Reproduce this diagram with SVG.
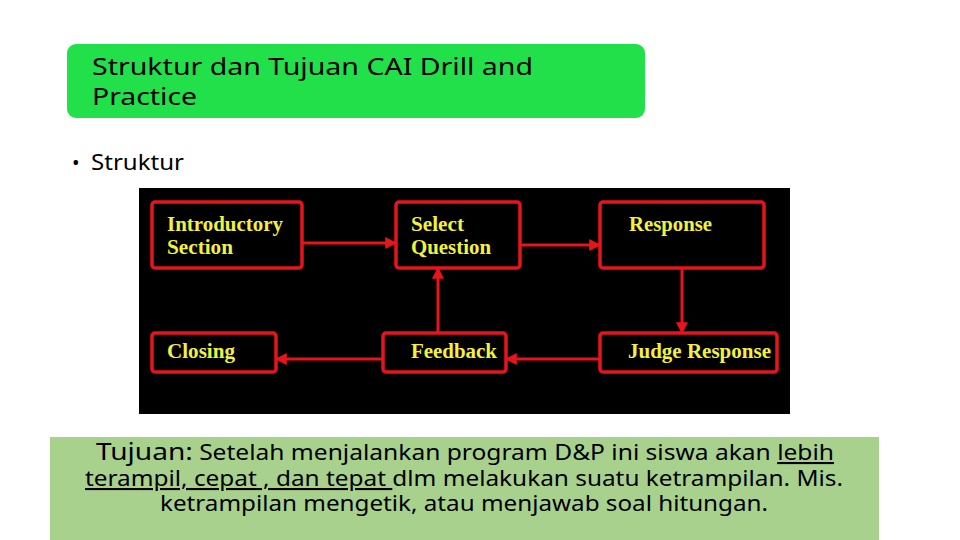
<svg xmlns="http://www.w3.org/2000/svg" width="960" height="540" viewBox="0 0 960 540">
<defs>
<marker id="ah" viewBox="0 0 10 10" refX="9" refY="5" markerWidth="4" markerHeight="4" orient="auto" markerUnits="strokeWidth">
<path d="M0,0 L10,5 L0,10 z" fill="#E8141C"/>
</marker>
<style>
.box{fill:#000;stroke:#E8141C;stroke-width:3.5}
.lbl{font-family:"Liberation Serif",serif;font-weight:bold;font-size:20px;fill:#F2F23C}
.con{stroke:#E8141C;stroke-width:3;fill:none;marker-end:url(#ah)}
.sans{font-family:"Noto Sans","Open Sans",sans-serif;fill:#000}
</style>
</defs>
<rect width="960" height="540" fill="#fff"/>
<g id="title">
<rect x="67" y="44" width="578" height="74" rx="9" fill="#22E04A"/>
<text class="sans" x="92" y="75" font-size="24" textLength="441" lengthAdjust="spacingAndGlyphs">Struktur dan Tujuan CAI Drill and</text>
<text class="sans" x="92" y="105" font-size="24" textLength="105" lengthAdjust="spacingAndGlyphs">Practice</text>
</g>
<g id="bullet">
<text class="sans" x="72" y="170" font-size="20">•</text>
<text class="sans" x="91" y="170" font-size="22" textLength="93" lengthAdjust="spacingAndGlyphs">Struktur</text>
</g>
<rect x="139" y="188" width="651" height="226" fill="#000"/>
<g id="n-intro">
<rect class="box" x="152" y="202" width="150" height="66" rx="3"/>
<text class="lbl" x="167" y="231" textLength="116" lengthAdjust="spacingAndGlyphs">Introductory</text>
<text class="lbl" x="167" y="254" textLength="66" lengthAdjust="spacingAndGlyphs">Section</text>
</g>
<g id="n-select">
<rect class="box" x="396" y="202" width="124" height="66" rx="3"/>
<text class="lbl" x="411" y="231" textLength="53" lengthAdjust="spacingAndGlyphs">Select</text>
<text class="lbl" x="411" y="254" textLength="80" lengthAdjust="spacingAndGlyphs">Question</text>
</g>
<g id="n-response">
<rect class="box" x="600" y="202" width="164" height="66" rx="3"/>
<text class="lbl" x="629" y="231" textLength="83" lengthAdjust="spacingAndGlyphs">Response</text>
</g>
<g id="n-closing">
<rect class="box" x="152" y="333" width="124" height="39" rx="3"/>
<text class="lbl" x="167" y="358" textLength="68" lengthAdjust="spacingAndGlyphs">Closing</text>
</g>
<g id="n-feedback">
<rect class="box" x="383" y="333" width="123" height="39" rx="3"/>
<text class="lbl" x="411" y="358" textLength="86" lengthAdjust="spacingAndGlyphs">Feedback</text>
</g>
<g id="n-judge">
<rect class="box" x="600" y="333" width="177" height="39" rx="3"/>
<text class="lbl" x="628" y="358" textLength="143" lengthAdjust="spacingAndGlyphs">Judge Response</text>
</g>
<g id="connectors">
<line class="con" x1="303" y1="243" x2="396" y2="243"/>
<line class="con" x1="521" y1="245" x2="600" y2="245"/>
<line class="con" x1="682" y1="269" x2="682" y2="333"/>
<line class="con" x1="599" y1="359" x2="506" y2="359"/>
<line class="con" x1="438" y1="332" x2="438" y2="268"/>
<line class="con" x1="382" y1="359" x2="276" y2="359"/>
</g>
<g id="tujuan">
<rect x="50" y="437" width="829" height="103" fill="#A9D18E"/>
<text class="sans" x="96" y="460" font-size="21" textLength="738" lengthAdjust="spacingAndGlyphs"><tspan font-size="24">Tujuan:</tspan> Setelah menjalankan program D&amp;P ini siswa akan <tspan text-decoration="underline">lebih</tspan></text>
<text class="sans" x="85" y="486" font-size="21" textLength="758" lengthAdjust="spacingAndGlyphs"><tspan text-decoration="underline">terampil, cepat , dan tepat </tspan>dlm melakukan suatu ketrampilan. Mis.</text>
<text class="sans" x="160" y="511" font-size="21" textLength="608" lengthAdjust="spacingAndGlyphs">ketrampilan mengetik, atau menjawab soal hitungan.</text>
</g>
</svg>
